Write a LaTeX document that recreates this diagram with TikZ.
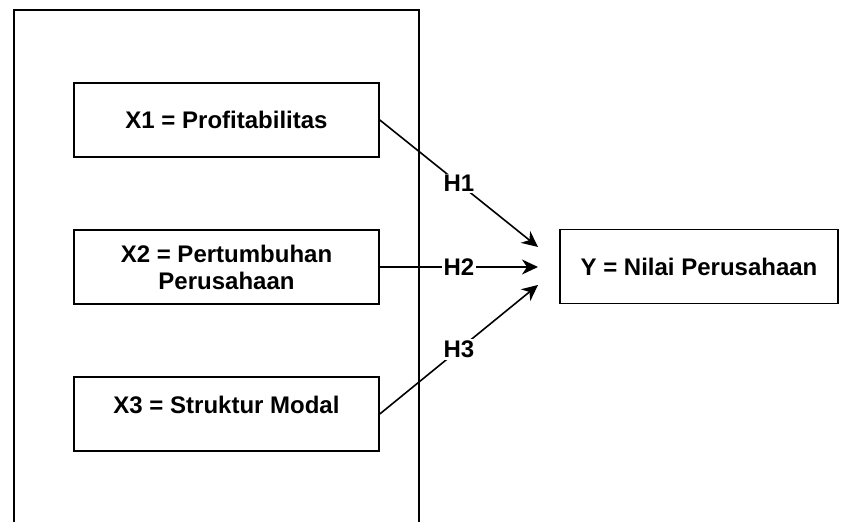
\documentclass[tikz,border=0pt]{standalone}
\usepackage{fontspec}
\setmainfont{Liberation Sans}
\usetikzlibrary{arrows.meta}
\tikzstyle{varbox} = [rectangle, 
minimum width=152.5pt, 
minimum height=37pt, 
text centered, 
align=center, 
draw=black, 
line width=0.8pt, 
font=\fontsize{12}{13.5}\selectfont\bfseries]
\tikzstyle{hyp} = [fill=white, 
inner sep=0.8pt, 
font=\fontsize{12}{13.5}\selectfont\bfseries]
\tikzstyle{arrow} = [line width=0.8pt,
-{Stealth[length=8pt, width=7.5pt, inset=2.5pt]}]

\begin{document}
\begin{tikzpicture}[x=0.5pt, y=0.5pt, node distance=73.5pt]
			\useasboundingbox (0,0) rectangle (852,522);
			
			\draw [line width=0.8pt] (14,0) -- (14,512) -- (419,512) -- (419,0);
			
			\node (x1) [varbox] at (226.5,402) {X1 = Profitabilitas};
			
			\node (x2) [varbox, below of=x1] {X2 = Pertumbuhan\\Perusahaan};
			
			\node (x3) [varbox, below of=x2, text depth=9pt] {X3 = Struktur Modal};
			
			\node (y) [varbox, minimum width=139pt, right of=x2, xshift=162.75pt, yshift=0.25pt] {Y = Nilai Perusahaan};
			
			\coordinate (t1) at (538,275);
			\coordinate (t2) at (538,255);
			\coordinate (t3) at (538,237);
			
			\draw [arrow] (x1.east) -- node[hyp] {H1} (t1);
			\draw [arrow] (x2.east) -- node[hyp] {H2} (t2);
			\draw [arrow] (x3.east) -- node[hyp] {H3} (t3);
			
\end{tikzpicture}
\end{document}
